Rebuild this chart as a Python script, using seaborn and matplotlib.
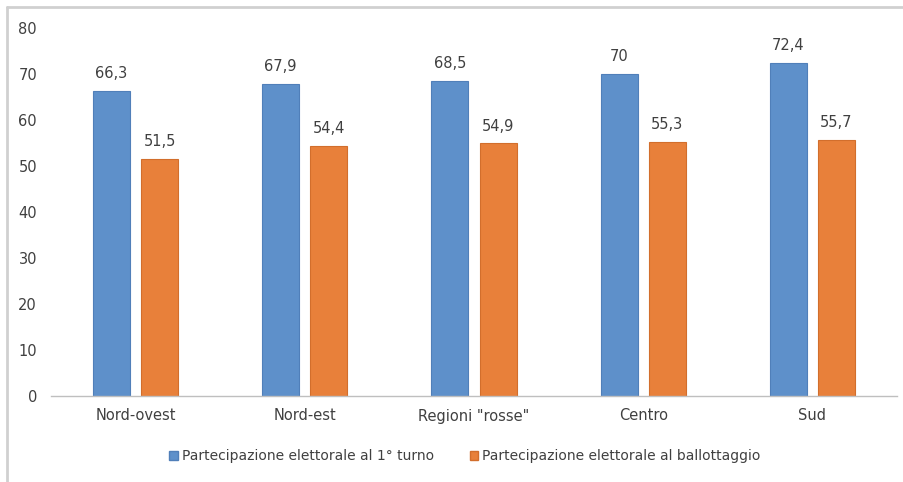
import matplotlib.pyplot as plt
from matplotlib.lines import Line2D
from matplotlib.patches import Patch
import seaborn as sns
import pandas as pd

regions = ['Nord-ovest', 'Nord-est', 'Regioni "rosse"', 'Centro', 'Sud']
primo_turno = [66.3, 67.9, 68.5, 70.0, 72.4]
ballottaggio = [51.5, 54.4, 54.9, 55.3, 55.7]
series = ['Partecipazione elettorale al 1° turno',
          'Partecipazione elettorale al ballottaggio']
colors = ['#5E90CA', '#E8803A']
edges = ['#507FB9', '#D26E2C']

df = pd.DataFrame({
    'region': regions * 2,
    'value': primo_turno + ballottaggio,
    'serie': [series[0]] * len(regions) + [series[1]] * len(regions),
})

sns.set_style("white")
plt.rcParams['font.family'] = ['DejaVu Sans']

fig = plt.figure(figsize=(9.04, 4.82), dpi=100)
ax = fig.add_axes([51 / 904, 1 - 396 / 482, 846 / 904, 368 / 482])

sns.barplot(data=df, x='region', y='value', hue='serie', order=regions,
            hue_order=series, palette=colors, width=0.57, gap=0.23,
            saturation=1, legend=False, ax=ax)

for i, container in enumerate(ax.containers):
    for bar in container:
        bar.set_edgecolor(edges[i])
        bar.set_linewidth(0.8)
    labels = [('%g' % b.get_height()).replace('.', ',') for b in container]
    ax.bar_label(container, labels=labels, padding=7, fontsize=10.5,
                 color='#404040')

ax.set_ylim(0, 80)
ax.set_xlim(-0.5, len(regions) - 0.5)
ax.set_yticks(range(0, 81, 10))
ax.set_xlabel('')
ax.set_ylabel('')
for side in ['top', 'right', 'left']:
    ax.spines[side].set_visible(False)
ax.spines['bottom'].set_color('#BFBFBF')
ax.spines['bottom'].set_linewidth(1)
ax.tick_params(axis='y', length=0, pad=10, labelsize=10.5, labelcolor='#404040')
ax.tick_params(axis='x', length=0, pad=9, labelsize=10.5, labelcolor='#404040')

handles = [Patch(facecolor=colors[i], edgecolor=edges[i]) for i in range(2)]
fig.legend(handles, series, loc='center', bbox_to_anchor=(465 / 904, 1 - 456 / 482),
           ncol=2, frameon=False, fontsize=10, handlelength=0.6, handleheight=0.6,
           handletextpad=0.3, columnspacing=2.6, labelcolor='#404040')

# chart frame (left and top edges visible)
fig.add_artist(Line2D([7 / 904, 7 / 904], [0, 1 - 7 / 482], color='#D0D0D0', lw=2))
fig.add_artist(Line2D([7 / 904, 1], [1 - 7 / 482, 1 - 7 / 482], color='#D0D0D0', lw=2))

fig.savefig('out.png', dpi=100)
